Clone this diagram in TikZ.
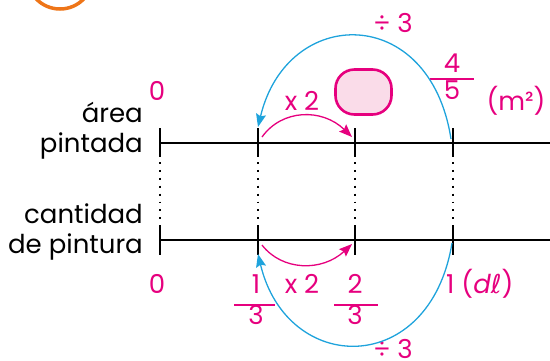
\documentclass[tikz,border=0pt]{standalone}
\usepackage{fontspec}
\setmainfont{Poppins}
\newfontfamily\dejavu{DejaVu Sans}
\usetikzlibrary{arrows.meta}
\definecolor{mag}{HTML}{E6007E}
\definecolor{sky}{HTML}{1FA3DC}
\definecolor{orng}{HTML}{EE7518}
\definecolor{pinkfill}{HTML}{FADCE9}
\tikzset{
  axis/.style={line width=2.8pt, black},
  tick/.style={line width=2.8pt, black},
  dots/.style={line width=1.9pt, dash pattern=on 1.9pt off 6pt, black},
  lbl/.style={font=\fontsize{26}{28}\selectfont, text=black, inner sep=0pt},
  num/.style={font=\fontsize{26}{28}\selectfont, text=mag, inner sep=0pt},
  fracbar/.style={line width=2.2pt, mag},
  bluearr/.style={sky, line width=1.3pt, -{Stealth[length=13pt,width=10pt,inset=2pt]}},
  magarr/.style={mag, line width=1.3pt, -{Stealth[length=13pt,width=10pt,inset=2pt]}},
}
\begin{document}
\begin{tikzpicture}[x=1pt,y=-1pt]
\useasboundingbox (0,0) rectangle (550,360);
% header remnants
\draw[orng, line width=3.5pt] (60,-24) circle (33);
\node[lbl, anchor=base] (g1) at (222,-7) {g};
\node[lbl, anchor=base] (g2) at (292,-7) {g};
% tick coordinates
\foreach \n/\x in {a/160,b/258,c/355,d/453}{
  \coordinate (T\n t) at (\x,128);
  \coordinate (T\n m) at (\x,143);
  \coordinate (T\n b) at (\x,157);
  \coordinate (B\n t) at (\x,225);
  \coordinate (B\n m) at (\x,240);
  \coordinate (B\n b) at (\x,255);
}
\coordinate (Tend) at (550,143);
\coordinate (Bend) at (550,240);
\draw[axis] (Tam) -- (Tend);
\draw[axis] (Bam) -- (Bend);
\foreach \n in {a,b,c,d}{
  \draw[tick] (T\n t) -- (T\n b);
  \draw[tick] (B\n t) -- (B\n b);
  \draw[dots] ([yshift=-5pt]T\n b) -- (B\n t);
}
% left labels
\node[lbl, anchor=base east] (area) at (143,122) {área};
\node[lbl, anchor=base east] (pint) at (143,152) {pintada};
\node[lbl, anchor=base east] (cant) at (143,223) {cantidad};
\node[lbl, anchor=base east] (dep) at (143,253) {de pintura};
% numbers
\node[num, anchor=base] (z1) at (157,100) {0};
\node[num, anchor=base] (z2) at (157,293) {0};
\node[num, anchor=base] (n13) at (256,293) {1};
\draw[fracbar] (234,305) -- (275,305);
\node[num, anchor=base] (d13) at (256,324) {3};
\node[num, anchor=base] (n23) at (355,293) {2};
\draw[fracbar] (334,305) -- (378,305);
\node[num, anchor=base] (d23) at (355,324) {3};
\node[num, anchor=base west] (one) at (446,293) {1 ({\itshape d}{\dejavu\itshape ℓ})};
\node[num, anchor=base] (x2b) at (302,293) {x 2};
\node[num, anchor=base] (x2t) at (302,110) {x 2};
\node[num, anchor=base] (div3t) at (393,32) {÷ 3};
\node[num, anchor=base] (div3b) at (393,358) {÷ 3};
\node[num, anchor=base] (n45) at (452,72) {4};
\draw[fracbar] (430,79) -- (474,79);
\node[num, anchor=base] (d45) at (452,99) {5};
\node[num, anchor=base] (unit) at (516,110) {(m²)};
% pink box
\node[draw=mag, fill=pinkfill, line width=2.6pt, rounded corners=19pt,
      minimum width=56pt, minimum height=45pt, inner sep=0pt] (box) at (363.5,92) {};
% arrows
\coordinate (bs1) at (451,139);
\coordinate (be1) at (258,127);
\draw[bluearr] (bs1) .. controls (430,3) and (287,5) .. (be1);
\coordinate (bs2) at (452,243);
\coordinate (be2) at (258,254);
\draw[bluearr] (bs2) .. controls (430,378) and (287,376) .. (be2);
\coordinate (ms1) at (262,137);
\coordinate (me1) at (352,137);
\draw[magarr] (ms1) .. controls (282,109) and (322,108) .. (me1);
\coordinate (ms2) at (262,245);
\coordinate (me2) at (352,244);
\draw[magarr] (ms2) .. controls (282,271) and (322,272) .. (me2);
\end{tikzpicture}
\end{document}
